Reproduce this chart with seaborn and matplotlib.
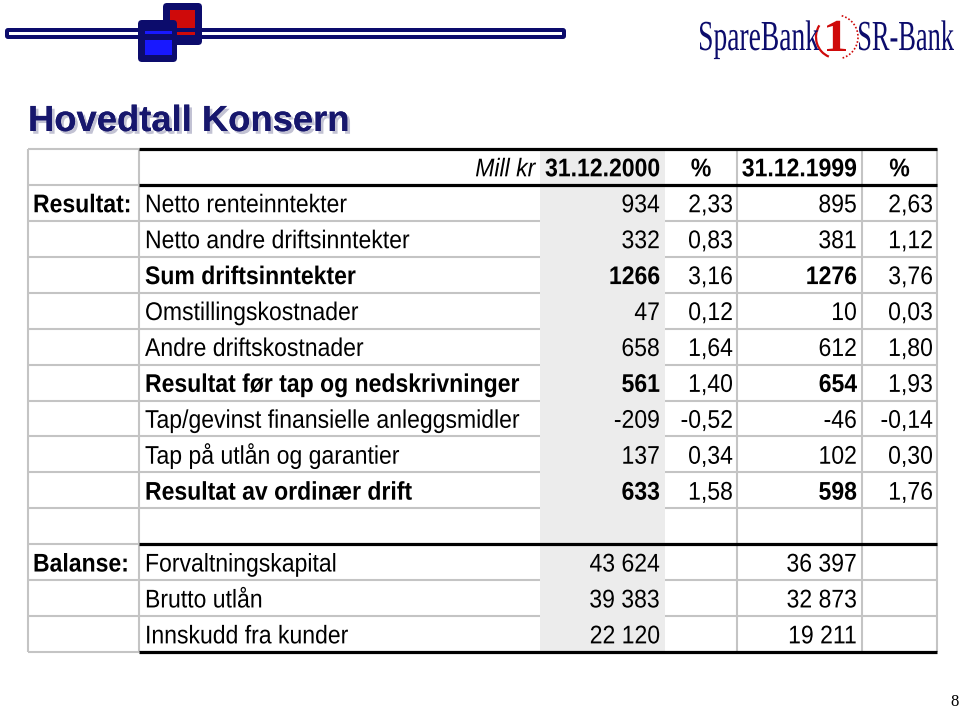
import numpy as np
import pandas as pd
import seaborn as sns
import matplotlib
matplotlib.use("Agg")
import matplotlib.pyplot as plt
from matplotlib.colors import ListedColormap
from matplotlib.textpath import TextPath
from matplotlib.patches import Rectangle, FancyBboxPatch, Arc
from matplotlib.font_manager import FontProperties
from matplotlib.transforms import Affine2D, offset_copy
import matplotlib.patheffects as pe

# ---------------- data ----------------
header_labels = ["Mill kr", "31.12.2000", "%", "31.12.1999", "%"]
section_labels = ["Resultat:", "Balanse:"]

result_labels = [
    "Netto renteinntekter",
    "Netto andre driftsinntekter",
    "Sum driftsinntekter",
    "Omstillingskostnader",
    "Andre driftskostnader",
    "Resultat før tap og nedskrivninger",
    "Tap/gevinst finansielle anleggsmidler",
    "Tap på utlån og garantier",
    "Resultat av ordinær drift",
]
result_2000 = [934, 332, 1266, 47, 658, 561, -209, 137, 633]
pct_2000 = [2.33, 0.83, 3.16, 0.12, 1.64, 1.40, -0.52, 0.34, 1.58]
result_1999 = [895, 381, 1276, 10, 612, 654, -46, 102, 598]
pct_1999 = [2.63, 1.12, 3.76, 0.03, 1.80, 1.93, -0.14, 0.30, 1.76]
bold_rows = [2, 5, 8]

balance_labels = ["Forvaltningskapital", "Brutto utlån", "Innskudd fra kunder"]
balance_2000 = [43624, 39383, 22120]
balance_1999 = [36397, 32873, 19211]

title = "Hovedtall Konsern"
logo_words = ["SpareBank", "1", "SR-Bank"]
page_no = "8"

# ---------------- style ----------------
W, H = 960, 709
sns.set_theme(style="white")
plt.rcParams["font.family"] = ["Liberation Sans", "DejaVu Sans"]

NAVY = "#0c0c6c"
TITLE_C = "#17176d"
RED = "#cf0a0a"
BLUE = "#1818ff"
GRID = "#c4c4c4"
SHADE = "#ececec"
FS = 18.4        # table font size (pt)
SQ = 0.90        # horizontal condensing of table text (narrow face look)


class Squeeze(pe.AbstractPathEffect):
    """Draw text glyphs scaled (condensed / heightened) around an alignment pivot."""

    def __init__(self, sx, sy=1.0, align="left"):
        super().__init__()
        self.sx = sx
        self.sy = sy
        self.align = align

    def draw_path(self, renderer, gc, tpath, affine, rgbFace=None):
        ext = tpath.get_extents()
        if self.align == "right":
            px = ext.x1
        elif self.align == "center":
            px = 0.5 * (ext.x0 + ext.x1)
        else:
            px = 0.0
        pre = Affine2D().translate(-px, 0).scale(self.sx, self.sy).translate(px, 0)
        renderer.draw_path(gc, tpath, pre + affine, rgbFace)


fig = plt.figure(figsize=(W / 100, H / 100), dpi=100)
fig.patch.set_facecolor("white")

# ---------------- decoration layer (pixel coords) ----------------
deco = fig.add_axes([0, 0, 1, 1])
deco.set_xlim(0, W)
deco.set_ylim(H, 0)
deco.set_axis_off()

# left logo: bar + two squares
deco.add_patch(FancyBboxPatch((5, 28), 561, 11, boxstyle="round,pad=0,rounding_size=3",
                              fc=NAVY, ec="none"))
deco.add_patch(Rectangle((9, 32), 553, 3, fc="white", ec="none"))
deco.add_patch(FancyBboxPatch((163, 3), 39, 42, boxstyle="round,pad=0,rounding_size=4",
                              fc=NAVY, ec="none"))
deco.add_patch(Rectangle((170, 10), 25, 18, fc=RED, ec="none"))
deco.add_patch(Rectangle((170, 32), 25, 3, fc=RED, ec="none"))
deco.add_patch(FancyBboxPatch((138, 20), 39, 42, boxstyle="round,pad=0,rounding_size=4",
                              fc=NAVY, ec="none"))
deco.add_patch(Rectangle((145, 31), 27, 3, fc=BLUE, ec="none"))
deco.add_patch(Rectangle((145, 40), 27, 15, fc=BLUE, ec="none"))


def logo_text(s, x_left, x_right, y_base, cap_px, color, weight="normal"):
    # natural width fits the slot; glyphs are heightened to the logo's cap height
    fp = FontProperties(family="Liberation Serif", weight=weight)
    bb1 = TextPath((0, 0), s, size=1, prop=fp).get_extents()
    cap_unit = TextPath((0, 0), "H", size=1, prop=fp).get_extents().height
    em_px = (x_right - x_left) / bb1.width
    sy = cap_px / (cap_unit * em_px)
    deco.text(x_left - bb1.x0 * em_px, y_base, s, fontproperties=fp,
              fontsize=em_px * 0.72, color=color, ha="left", va="baseline",
              clip_on=False, path_effects=[Squeeze(1.0, sy, "left")])


logo_text(logo_words[0], 700, 819, 50, 28, NAVY)
logo_text(logo_words[1], 827, 846, 51, 30, RED, "bold")
logo_text(logo_words[2], 859, 954, 50, 28, NAVY)
deco.add_patch(Arc((836, 37), 40, 42, theta1=110, theta2=215, color=RED, lw=1.6))
deco.add_patch(Arc((836, 37), 44, 44, theta1=-75, theta2=75, color=RED, lw=1.2, ls=(0, (1, 1.2))))

# title with shadow
deco.text(28, 131, title, fontsize=26.2, fontweight="bold", color=TITLE_C,
          family=["Liberation Sans", "DejaVu Sans"], va="baseline", ha="left",
          path_effects=[pe.withSimplePatchShadow(offset=(2, -2), shadow_rgbFace="#9090b0", alpha=0.55),
                        pe.Normal()])

deco.text(955, 706, page_no, fontsize=12, family=["Liberation Serif", "DejaVu Serif"],
          ha="center", va="baseline", color="black")

# ---------------- table ----------------
n_rows = 1 + len(result_labels) + 1 + len(balance_labels)   # header, results, blank, balance
n_cols = 6
EDGES = [28, 139, 540, 665, 737, 862, 937]
idx = np.arange(n_cols + 1)
top_px, bot_px = 149, 652

ax = fig.add_axes([EDGES[0] / W, (H - bot_px) / H, (EDGES[-1] - EDGES[0]) / W, (bot_px - top_px) / H])
shade = pd.DataFrame(np.zeros((n_rows, n_cols)))
shade[2] = 1.0
sns.heatmap(shade, ax=ax, cmap=ListedColormap(["white", SHADE]), vmin=0, vmax=1,
            cbar=False, xticklabels=False, yticklabels=False)
ax.set_xscale("function", functions=(lambda v: np.interp(v, idx, EDGES),
                                     lambda p: np.interp(p, EDGES, idx)))
ax.set_xlim(0, n_cols)
ax.set_ylim(n_rows, 0)
ax.set_axis_off()

GLW = 1.5
BLW = 2.3
blank_row = 1 + len(result_labels)
bal_start = blank_row + 1
# gray grid
ax.vlines([0, 1, 4, 5, 6], 0, n_rows, colors=GRID, lw=GLW, clip_on=False, zorder=3)
ax.hlines(np.arange(n_rows + 1), 0, 1, colors=GRID, lw=GLW, clip_on=False, zorder=3)
inner = [r for r in range(2, n_rows) if r != bal_start]
ax.hlines(inner, 1, 2, colors=GRID, lw=GLW, clip_on=False, zorder=3)
ax.hlines(inner, 3, 6, colors=GRID, lw=GLW, clip_on=False, zorder=3)
# black rules
ax.hlines([0, 1, bal_start, n_rows], 1, 6, colors="black", lw=BLW, clip_on=False, zorder=4)

BASE = 0.76


def put(x, row, s, ha, dx, weight="normal", style="normal"):
    tr = offset_copy(ax.transData, fig=fig, x=dx, y=0, units="dots")
    ax.text(x, row + BASE, s, transform=tr, ha=ha, va="baseline",
            fontsize=FS, fontweight=weight, fontstyle=style, color="black",
            clip_on=False, zorder=5, path_effects=[Squeeze(SQ, 1.0, ha)])


def pct(v):
    return f"{v:.2f}".replace(".", ",")


def thou(v):
    return f"{v:,}".replace(",", " ")


# header
put(2, 0, header_labels[0], "right", -5, style="italic")
for c, lab in zip([2.5, 3.5, 4.5, 5.5], header_labels[1:]):
    put(c, 0, lab, "center", 0, weight="bold")

put(0, 1, section_labels[0], "left", 5, weight="bold")
put(0, bal_start, section_labels[1], "left", 5, weight="bold")

for i, lab in enumerate(result_labels):
    r = 1 + i
    w = "bold" if i in bold_rows else "normal"
    put(1, r, lab, "left", 6, weight=w)
    put(3, r, str(result_2000[i]), "right", -5, weight=w)
    put(4, r, pct(pct_2000[i]), "right", -4)
    put(5, r, str(result_1999[i]), "right", -5, weight=w)
    put(6, r, pct(pct_1999[i]), "right", -4)

for i, lab in enumerate(balance_labels):
    r = bal_start + i
    put(1, r, lab, "left", 6)
    put(3, r, thou(balance_2000[i]), "right", -5)
    put(5, r, thou(balance_1999[i]), "right", -5)

fig.savefig("out.png", dpi=100, facecolor="white")
